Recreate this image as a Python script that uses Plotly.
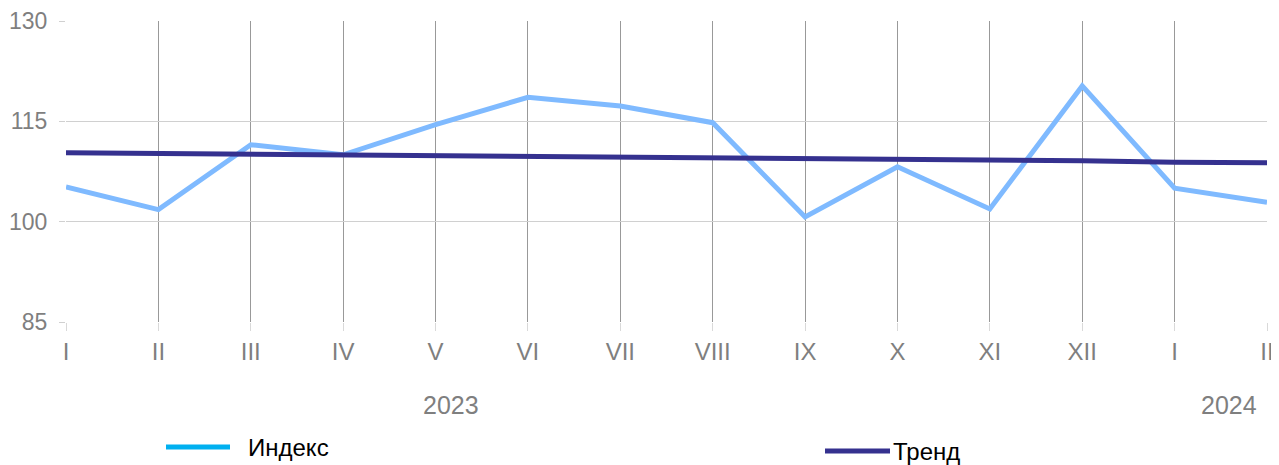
import plotly.graph_objects as go

months = ["I", "II", "III", "IV", "V", "VI", "VII", "VIII", "IX", "X", "XI", "XII", "I", "II"]
index_vals = [105.2, 101.8, 111.5, 110.0, 114.5, 118.6, 117.3, 114.8, 100.7, 108.2, 101.9, 120.3, 105.0, 102.9]
trend_vals = [110.3, 110.2, 110.1, 110.0, 109.8, 109.7, 109.6, 109.5, 109.4, 109.3, 109.2, 109.1, 108.9, 108.8]
years = ["2023", "2024"]
y_ticks = [85, 100, 115, 130]

x = list(range(len(months)))
font = "Liberation Sans, Arial, sans-serif"

# the page body adds an 8px offset, so the figure is a bit smaller than the window
OFF = 8
W, H = 1279 - OFF, 465 - OFF
L, R, T, B = 66 - OFF, 12, 21 - OFF, 143
ph = H - T - B
pw = W - L - R


def px_x(p):
    return (p - OFF - L) / pw


def px_y(p):
    return (H - B - (p - OFF)) / ph


fig = go.Figure()
fig.add_trace(go.Scatter(x=x, y=index_vals, mode="lines", name="Индекс",
                         line=dict(color="#7fbaff", width=5), showlegend=False))
fig.add_trace(go.Scatter(x=x, y=trend_vals, mode="lines", name="Тренд",
                         line=dict(color="#35318f", width=5), showlegend=False))

fig.update_xaxes(range=[0, len(months) - 1], tickvals=x, ticktext=months,
                 showgrid=True, gridcolor="#999999", gridwidth=1,
                 ticks="outside", ticklen=8, tickcolor="#d9d9d9",
                 showline=False, zeroline=False, automargin=False,
                 tickfont=dict(family=font, size=24, color="#7f7f7f"))
fig.update_yaxes(range=[85, 130], tickvals=y_ticks,
                 showgrid=True, gridcolor="#d0d0d0", gridwidth=1,
                 ticks="outside", ticklen=6, tickcolor="#d0d0d0",
                 ticklabelstandoff=7, showline=False, zeroline=False, automargin=False,
                 tickfont=dict(family=font, size=23, color="#7f7f7f"))

# year labels under the month ticks
for yr, xc in zip(years, [451, 1229]):
    fig.add_annotation(text=yr, xref="paper", yref="paper", x=px_x(xc), y=px_y(405),
                       xanchor="center", yanchor="middle", showarrow=False,
                       font=dict(family=font, size=25, color="#7f7f7f"))

# legend drawn by hand (swatch colour differs from the line in the original)
legend_items = [("Индекс", "#00b0f0", 166, 230, 246, 447),
                ("Тренд", "#35318f", 825, 890, 891, 451)]
for label, col, x0, x1, xt, yl in legend_items:
    fig.add_shape(type="line", xref="paper", yref="paper", x0=px_x(x0), x1=px_x(x1),
                  y0=px_y(yl), y1=px_y(yl), line=dict(color=col, width=5))
    fig.add_annotation(text=label, xref="paper", yref="paper", x=px_x(xt), y=px_y(yl),
                       xanchor="left", yanchor="middle", showarrow=False,
                       font=dict(family=font, size=24, color="#000000"))

fig.update_layout(width=W, height=H, margin=dict(l=L, r=R, t=T, b=B),
                  plot_bgcolor="white", paper_bgcolor="white", showlegend=False)

fig.write_html("out.html")
